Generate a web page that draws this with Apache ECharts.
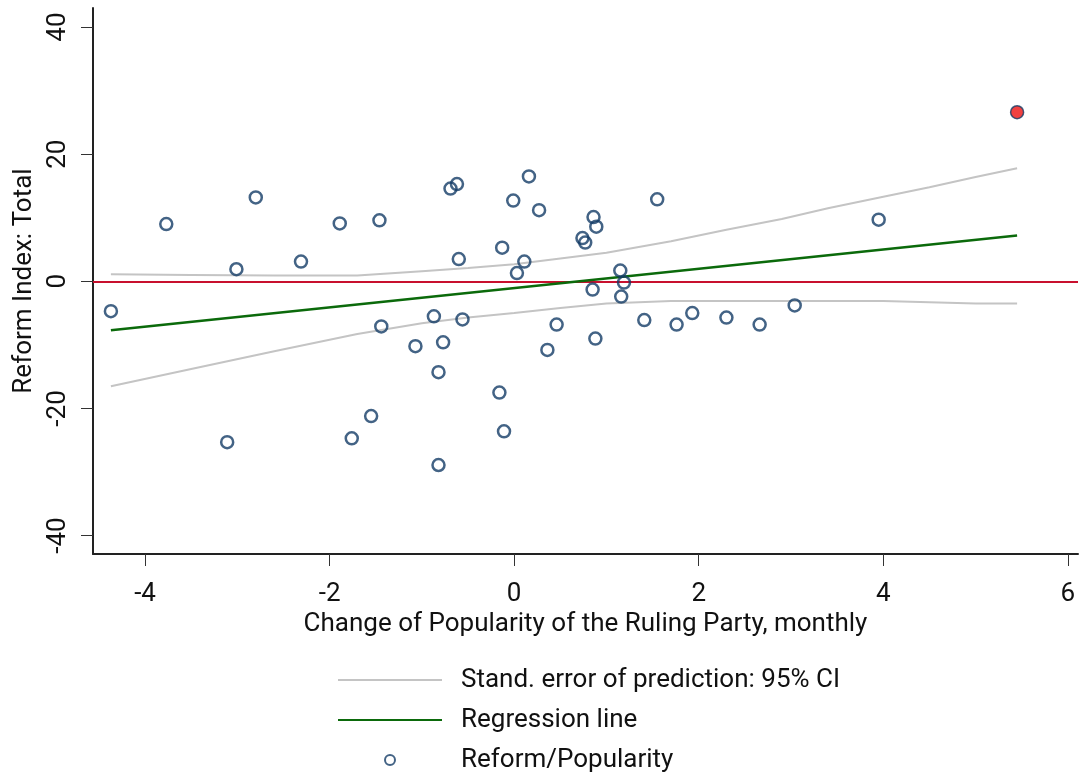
<!DOCTYPE html>
<html>
<head>
<meta charset="utf-8">
<script src="https://cdn.jsdelivr.net/npm/echarts@6/dist/echarts.min.js"></script>
<style>
  html, body { margin: 0; padding: 0; background: #fff; }
  #chart { width: 1081px; height: 778px; }
</style>
</head>
<body>
<div id="chart"></div>
<script>
// change of popularity (x) and reform index (y)
const popX = [-4.37, -3.77, -3.01, -2.80, -2.31, -1.89, -1.46, -1.44, -1.07, -0.87,
  -0.77, -0.82, -0.69, -0.62, -0.60, -0.56, -1.55, -1.76, -3.11, -0.82,
  -0.16, -0.11, -0.13, -0.01, 0.03, 0.11, 0.16, 0.27, 0.36, 0.46,
  0.74, 0.77, 0.86, 0.89, 0.85, 0.88, 1.15, 1.19, 1.16, 1.55,
  1.41, 1.76, 1.93, 2.30, 2.66, 3.04, 3.95]
const reform = [-4.7, 9.0, 1.9, 13.2, 3.1, 9.1, 9.6, -7.1, -10.2, -5.5,
  -9.6, -14.3, 14.6, 15.3, 3.5, -6.0, -21.2, -24.7, -25.3, -28.9,
  -17.5, -23.6, 5.3, 12.7, 1.3, 3.1, 16.5, 11.2, -10.8, -6.8,
  6.8, 6.1, 10.1, 8.6, -1.3, -9.0, 1.7, -0.2, -2.4, 12.9,
  -6.1, -6.8, -5.0, -5.7, -6.8, -3.8, 9.7]
// highlighted observation
const outlierX = [5.45]
const outlierY = [26.6]

// confidence band
const ciX = [-4.37, -3.5, -2.6, -1.7, -1.0, -0.5, 0, 0.5, 1.0, 1.7, 2.3, 2.9, 3.4, 4.0, 4.5, 5.0, 5.45]
const ciUpper = [1.1, 1.0, 0.9, 0.9, 1.6, 2.1, 2.7, 3.6, 4.5, 6.3, 8.1, 9.8, 11.5, 13.3, 14.8, 16.4, 17.8]
const ciLower = [-16.5, -13.8, -11.0, -8.3, -6.6, -5.7, -5.0, -4.2, -3.5, -3.1, -3.1, -3.1, -3.1, -3.1, -3.3, -3.5, -3.5]

// regression line
const regX = [-4.37, 5.45]
const regY = [-7.7, 7.2]

const xTicks = [-4, -2, 0, 2, 4, 6]
const yTicks = [-40, -20, 0, 20, 40]

const FONT = "'Roboto', sans-serif"
const CI_NAME = 'Stand. error of prediction: 95% CI'

const zip = (xs, ys) => xs.map((x, i) => [x, ys[i]])

const chart = echarts.init(document.getElementById('chart'))
const option = {
    animation: false,
    textStyle: { fontFamily: FONT },
    grid: { left: 93, right: 3, top: 8, bottom: 224 },
    legend: {
        orient: 'vertical',
        left: 337,
        top: 665,
        padding: 0,
        itemWidth: 104,
        itemHeight: 10,
        itemGap: 10,
        textStyle: {
            fontFamily: FONT,
            fontSize: 26,
            color: '#111',
            lineHeight: 30,
            padding: [0, 0, 0, 14],
        },
        data: [
            { name: CI_NAME, itemStyle: { opacity: 0 } },
            { name: 'Regression line', itemStyle: { opacity: 0 } },
            { name: 'Reform/Popularity' },
        ],
    },
    xAxis: {
        type: 'value',
        min: -4.564,
        max: 6.11,
        name: 'Change of Popularity of the Ruling Party, monthly',
        nameLocation: 'middle',
        nameGap: 44,
        nameTextStyle: { fontFamily: FONT, fontSize: 26, color: '#111' },
        axisLine: { onZero: false, lineStyle: { color: '#222', width: 2 } },
        axisTick: { show: true, length: 12, customValues: xTicks, lineStyle: { color: '#333', width: 1 } },
        axisLabel: {
            fontFamily: FONT,
            fontSize: 26,
            color: '#111',
            margin: 27,
            customValues: xTicks,
        },
        splitLine: { show: false },
    },
    yAxis: {
        type: 'value',
        min: -42.9,
        max: 43.0,
        name: 'Reform Index: Total',
        nameLocation: 'middle',
        nameGap: 52,
        nameRotate: 90,
        nameTextStyle: { fontFamily: FONT, fontSize: 26, color: '#111' },
        axisLine: { show: true, onZero: false, lineStyle: { color: '#222', width: 2 } },
        axisTick: { show: true, length: 12, customValues: yTicks, lineStyle: { color: '#333', width: 1 } },
        axisLabel: {
            fontFamily: FONT,
            fontSize: 26,
            color: '#111',
            rotate: 90,
            margin: 22,
            customValues: yTicks,
        },
        splitLine: { show: false },
    },
    series: [
        {
            name: CI_NAME,
            type: 'line',
            data: zip(ciX, ciUpper),
            symbol: 'none',
            lineStyle: { color: '#c4c4c4', width: 2 },
            itemStyle: { color: '#c4c4c4' },
            z: 2,
        },
        {
            name: CI_NAME,
            type: 'line',
            data: zip(ciX, ciLower),
            symbol: 'none',
            lineStyle: { color: '#c4c4c4', width: 2 },
            itemStyle: { color: '#c4c4c4' },
            z: 2,
        },
        {
            name: 'Regression line',
            type: 'line',
            data: zip(regX, regY),
            symbol: 'none',
            lineStyle: { color: '#0b6a0b', width: 2.5 },
            itemStyle: { color: '#0b6a0b' },
            z: 3,
        },
        {
            name: 'Reform/Popularity',
            type: 'scatter',
            data: zip(popX, reform),
            symbol: 'circle',
            symbolSize: 12,
            itemStyle: { color: 'rgba(255,255,255,0)', borderColor: '#143c66', borderWidth: 2.5 },
            z: 4,
            markLine: {
                silent: true,
                symbol: 'none',
                label: { show: false },
                lineStyle: { color: '#c8102e', width: 2, type: 'solid' },
                data: [{ yAxis: 0 }],
                z: 2,
            },
        },
        {
            name: 'outlier',
            type: 'scatter',
            data: zip(outlierX, outlierY),
            symbol: 'circle',
            symbolSize: 13,
            itemStyle: { color: '#ee1111', borderColor: '#143c66', borderWidth: 1.5 },
            z: 5,
        },
    ],
}
chart.setOption(option)
</script>
</body>
</html>
